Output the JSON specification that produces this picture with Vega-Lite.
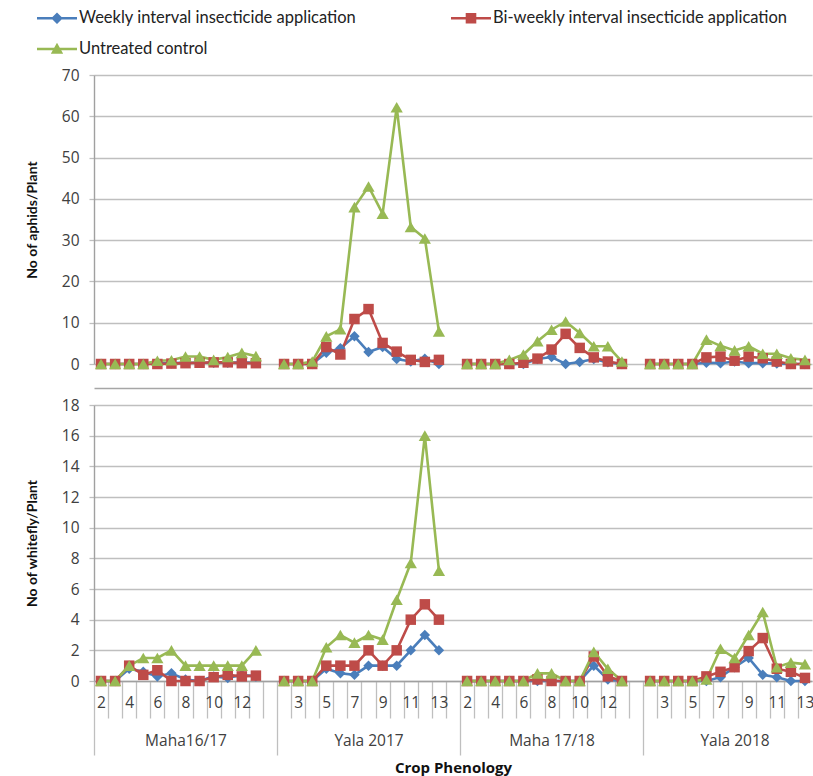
{
  "$schema": "https://vega.github.io/schema/vega-lite/v6.json",
  "background": "white",
  "padding": {"left": 25, "top": 8, "right": 0, "bottom": 0},
  "config": {
    "font": "Lato",
    "view": {"stroke": null},
    "concat": {"spacing": 10},
    "axis": {
      "labelFont": "Open Sans", "labelFontSize": 15.5, "labelColor": "#404040",
      "titleFont": "Lato", "titleFontSize": 14, "titleFontWeight": "bold", "titleColor": "#111111",
      "gridColor": "#BFBFBF", "gridWidth": 1.4,
      "domainColor": "#A0A0A0", "domainWidth": 1.4,
      "tickColor": "#BFBFBF", "tickWidth": 1.3
    },
    "legend": {"labelFont": "Lato", "labelFontSize": 16.5, "labelColor": "#222222", "labelLimit": 500}
  },
  "datasets": {
    "pests": [
      {"pest":"aphids","season":"Maha16/17","cat":"Maha16/17|2","W":0,"B":0,"U":0},
      {"pest":"aphids","season":"Maha16/17","cat":"Maha16/17|3","W":0,"B":0,"U":0},
      {"pest":"aphids","season":"Maha16/17","cat":"Maha16/17|4","W":0,"B":0,"U":0},
      {"pest":"aphids","season":"Maha16/17","cat":"Maha16/17|5","W":0,"B":0,"U":0},
      {"pest":"aphids","season":"Maha16/17","cat":"Maha16/17|6","W":0.2,"B":0,"U":0.8},
      {"pest":"aphids","season":"Maha16/17","cat":"Maha16/17|7","W":0.2,"B":0.1,"U":0.9},
      {"pest":"aphids","season":"Maha16/17","cat":"Maha16/17|8","W":0.3,"B":0.2,"U":1.8},
      {"pest":"aphids","season":"Maha16/17","cat":"Maha16/17|9","W":0.3,"B":0.3,"U":1.8},
      {"pest":"aphids","season":"Maha16/17","cat":"Maha16/17|10","W":0.3,"B":0.4,"U":1.0},
      {"pest":"aphids","season":"Maha16/17","cat":"Maha16/17|11","W":0.3,"B":0.4,"U":1.7},
      {"pest":"aphids","season":"Maha16/17","cat":"Maha16/17|12","W":0.4,"B":0.2,"U":2.7},
      {"pest":"aphids","season":"Maha16/17","cat":"Maha16/17|13","W":0.3,"B":0.2,"U":1.9},
      {"pest":"aphids","season":"Yala 2017","cat":"Yala 2017|2","W":0,"B":0,"U":0},
      {"pest":"aphids","season":"Yala 2017","cat":"Yala 2017|3","W":0,"B":0,"U":0},
      {"pest":"aphids","season":"Yala 2017","cat":"Yala 2017|4","W":0,"B":0,"U":0.6},
      {"pest":"aphids","season":"Yala 2017","cat":"Yala 2017|5","W":2.7,"B":4.1,"U":6.7},
      {"pest":"aphids","season":"Yala 2017","cat":"Yala 2017|6","W":3.8,"B":2.3,"U":8.4},
      {"pest":"aphids","season":"Yala 2017","cat":"Yala 2017|7","W":6.7,"B":10.9,"U":38},
      {"pest":"aphids","season":"Yala 2017","cat":"Yala 2017|8","W":2.9,"B":13.3,"U":43},
      {"pest":"aphids","season":"Yala 2017","cat":"Yala 2017|9","W":4.1,"B":5.1,"U":36.4},
      {"pest":"aphids","season":"Yala 2017","cat":"Yala 2017|10","W":1.2,"B":3.0,"U":62.2},
      {"pest":"aphids","season":"Yala 2017","cat":"Yala 2017|11","W":0.6,"B":1.0,"U":33.2},
      {"pest":"aphids","season":"Yala 2017","cat":"Yala 2017|12","W":1.3,"B":0.5,"U":30.4},
      {"pest":"aphids","season":"Yala 2017","cat":"Yala 2017|13","W":0,"B":1.0,"U":7.9},
      {"pest":"aphids","season":"Maha 17/18","cat":"Maha 17/18|2","W":0,"B":0,"U":0},
      {"pest":"aphids","season":"Maha 17/18","cat":"Maha 17/18|3","W":0,"B":0,"U":0},
      {"pest":"aphids","season":"Maha 17/18","cat":"Maha 17/18|4","W":0,"B":0,"U":0},
      {"pest":"aphids","season":"Maha 17/18","cat":"Maha 17/18|5","W":0,"B":0,"U":1.0},
      {"pest":"aphids","season":"Maha 17/18","cat":"Maha 17/18|6","W":0,"B":0.3,"U":2.3},
      {"pest":"aphids","season":"Maha 17/18","cat":"Maha 17/18|7","W":1.2,"B":1.3,"U":5.5},
      {"pest":"aphids","season":"Maha 17/18","cat":"Maha 17/18|8","W":1.7,"B":3.5,"U":8.3},
      {"pest":"aphids","season":"Maha 17/18","cat":"Maha 17/18|9","W":0,"B":7.3,"U":10.3},
      {"pest":"aphids","season":"Maha 17/18","cat":"Maha 17/18|10","W":0.5,"B":3.9,"U":7.5},
      {"pest":"aphids","season":"Maha 17/18","cat":"Maha 17/18|11","W":1.2,"B":1.6,"U":4.3},
      {"pest":"aphids","season":"Maha 17/18","cat":"Maha 17/18|12","W":0.4,"B":0.6,"U":4.3},
      {"pest":"aphids","season":"Maha 17/18","cat":"Maha 17/18|13","W":0,"B":0,"U":0.6},
      {"pest":"aphids","season":"Yala 2018","cat":"Yala 2018|2","W":0,"B":0,"U":0},
      {"pest":"aphids","season":"Yala 2018","cat":"Yala 2018|3","W":0,"B":0,"U":0},
      {"pest":"aphids","season":"Yala 2018","cat":"Yala 2018|4","W":0,"B":0,"U":0},
      {"pest":"aphids","season":"Yala 2018","cat":"Yala 2018|5","W":0,"B":0,"U":0},
      {"pest":"aphids","season":"Yala 2018","cat":"Yala 2018|6","W":0.3,"B":1.6,"U":5.9},
      {"pest":"aphids","season":"Yala 2018","cat":"Yala 2018|7","W":0.2,"B":1.8,"U":4.4},
      {"pest":"aphids","season":"Yala 2018","cat":"Yala 2018|8","W":0.6,"B":0.8,"U":3.3},
      {"pest":"aphids","season":"Yala 2018","cat":"Yala 2018|9","W":0.2,"B":1.8,"U":4.3},
      {"pest":"aphids","season":"Yala 2018","cat":"Yala 2018|10","W":0.2,"B":1.4,"U":2.5},
      {"pest":"aphids","season":"Yala 2018","cat":"Yala 2018|11","W":0.1,"B":0.6,"U":2.5},
      {"pest":"aphids","season":"Yala 2018","cat":"Yala 2018|12","W":0,"B":0,"U":1.4},
      {"pest":"aphids","season":"Yala 2018","cat":"Yala 2018|13","W":0,"B":0,"U":1.0},
      {"pest":"whitefly","season":"Maha16/17","cat":"Maha16/17|2","W":0,"B":0,"U":0},
      {"pest":"whitefly","season":"Maha16/17","cat":"Maha16/17|3","W":0,"B":0,"U":0},
      {"pest":"whitefly","season":"Maha16/17","cat":"Maha16/17|4","W":0.8,"B":1.0,"U":1.0},
      {"pest":"whitefly","season":"Maha16/17","cat":"Maha16/17|5","W":0.6,"B":0.4,"U":1.5},
      {"pest":"whitefly","season":"Maha16/17","cat":"Maha16/17|6","W":0.3,"B":0.7,"U":1.5},
      {"pest":"whitefly","season":"Maha16/17","cat":"Maha16/17|7","W":0.5,"B":0,"U":2.0},
      {"pest":"whitefly","season":"Maha16/17","cat":"Maha16/17|8","W":0.1,"B":0,"U":1.0},
      {"pest":"whitefly","season":"Maha16/17","cat":"Maha16/17|9","W":0,"B":0,"U":1.0},
      {"pest":"whitefly","season":"Maha16/17","cat":"Maha16/17|10","W":0.3,"B":0.25,"U":1.0},
      {"pest":"whitefly","season":"Maha16/17","cat":"Maha16/17|11","W":0.2,"B":0.4,"U":1.0},
      {"pest":"whitefly","season":"Maha16/17","cat":"Maha16/17|12","W":0.4,"B":0.3,"U":1.0},
      {"pest":"whitefly","season":"Maha16/17","cat":"Maha16/17|13","W":0.3,"B":0.35,"U":2.0},
      {"pest":"whitefly","season":"Yala 2017","cat":"Yala 2017|2","W":0,"B":0,"U":0},
      {"pest":"whitefly","season":"Yala 2017","cat":"Yala 2017|3","W":0,"B":0,"U":0},
      {"pest":"whitefly","season":"Yala 2017","cat":"Yala 2017|4","W":0,"B":0,"U":0},
      {"pest":"whitefly","season":"Yala 2017","cat":"Yala 2017|5","W":0.8,"B":1.0,"U":2.2},
      {"pest":"whitefly","season":"Yala 2017","cat":"Yala 2017|6","W":0.5,"B":1.0,"U":3.0},
      {"pest":"whitefly","season":"Yala 2017","cat":"Yala 2017|7","W":0.4,"B":1.0,"U":2.5},
      {"pest":"whitefly","season":"Yala 2017","cat":"Yala 2017|8","W":1.0,"B":2.0,"U":3.0},
      {"pest":"whitefly","season":"Yala 2017","cat":"Yala 2017|9","W":1.0,"B":1.0,"U":2.7},
      {"pest":"whitefly","season":"Yala 2017","cat":"Yala 2017|10","W":1.0,"B":2.0,"U":5.3},
      {"pest":"whitefly","season":"Yala 2017","cat":"Yala 2017|11","W":2.0,"B":4.0,"U":7.7},
      {"pest":"whitefly","season":"Yala 2017","cat":"Yala 2017|12","W":3.0,"B":5.0,"U":16.0},
      {"pest":"whitefly","season":"Yala 2017","cat":"Yala 2017|13","W":2.0,"B":4.0,"U":7.2},
      {"pest":"whitefly","season":"Maha 17/18","cat":"Maha 17/18|2","W":0,"B":0,"U":0},
      {"pest":"whitefly","season":"Maha 17/18","cat":"Maha 17/18|3","W":0,"B":0,"U":0},
      {"pest":"whitefly","season":"Maha 17/18","cat":"Maha 17/18|4","W":0,"B":0,"U":0},
      {"pest":"whitefly","season":"Maha 17/18","cat":"Maha 17/18|5","W":0,"B":0,"U":0},
      {"pest":"whitefly","season":"Maha 17/18","cat":"Maha 17/18|6","W":0,"B":0,"U":0},
      {"pest":"whitefly","season":"Maha 17/18","cat":"Maha 17/18|7","W":0,"B":0.1,"U":0.5},
      {"pest":"whitefly","season":"Maha 17/18","cat":"Maha 17/18|8","W":0,"B":0,"U":0.5},
      {"pest":"whitefly","season":"Maha 17/18","cat":"Maha 17/18|9","W":0,"B":0,"U":0},
      {"pest":"whitefly","season":"Maha 17/18","cat":"Maha 17/18|10","W":0,"B":0,"U":0},
      {"pest":"whitefly","season":"Maha 17/18","cat":"Maha 17/18|11","W":1.0,"B":1.6,"U":1.9},
      {"pest":"whitefly","season":"Maha 17/18","cat":"Maha 17/18|12","W":0.1,"B":0.3,"U":0.8},
      {"pest":"whitefly","season":"Maha 17/18","cat":"Maha 17/18|13","W":0,"B":0,"U":0},
      {"pest":"whitefly","season":"Yala 2018","cat":"Yala 2018|2","W":0,"B":0,"U":0},
      {"pest":"whitefly","season":"Yala 2018","cat":"Yala 2018|3","W":0,"B":0,"U":0},
      {"pest":"whitefly","season":"Yala 2018","cat":"Yala 2018|4","W":0,"B":0,"U":0},
      {"pest":"whitefly","season":"Yala 2018","cat":"Yala 2018|5","W":0,"B":0,"U":0},
      {"pest":"whitefly","season":"Yala 2018","cat":"Yala 2018|6","W":0,"B":0.3,"U":0.1},
      {"pest":"whitefly","season":"Yala 2018","cat":"Yala 2018|7","W":0.25,"B":0.6,"U":2.1},
      {"pest":"whitefly","season":"Yala 2018","cat":"Yala 2018|8","W":0.9,"B":0.9,"U":1.5},
      {"pest":"whitefly","season":"Yala 2018","cat":"Yala 2018|9","W":1.5,"B":1.95,"U":3.0},
      {"pest":"whitefly","season":"Yala 2018","cat":"Yala 2018|10","W":0.4,"B":2.8,"U":4.5},
      {"pest":"whitefly","season":"Yala 2018","cat":"Yala 2018|11","W":0.25,"B":0.8,"U":0.9},
      {"pest":"whitefly","season":"Yala 2018","cat":"Yala 2018|12","W":0,"B":0.6,"U":1.2},
      {"pest":"whitefly","season":"Yala 2018","cat":"Yala 2018|13","W":0,"B":0.2,"U":1.1}
    ]
  },
  "vconcat": [
    {
      "width": 718,
      "height": 289,
      "data": {"name": "pests"},
      "transform": [
        {"filter": "datum.pest == 'aphids'"},
        {"fold": ["W", "B", "U"], "as": ["series", "value"]}
      ],
      "encoding": {
        "x": {
          "field": "cat", "type": "ordinal",
          "scale": {"type": "point", "padding": 0.5, "domain": ["Maha16/17|2","Maha16/17|3","Maha16/17|4","Maha16/17|5","Maha16/17|6","Maha16/17|7","Maha16/17|8","Maha16/17|9","Maha16/17|10","Maha16/17|11","Maha16/17|12","Maha16/17|13","Maha16/17|14","Yala 2017|2","Yala 2017|3","Yala 2017|4","Yala 2017|5","Yala 2017|6","Yala 2017|7","Yala 2017|8","Yala 2017|9","Yala 2017|10","Yala 2017|11","Yala 2017|12","Yala 2017|13","Yala 2017|14","Maha 17/18|2","Maha 17/18|3","Maha 17/18|4","Maha 17/18|5","Maha 17/18|6","Maha 17/18|7","Maha 17/18|8","Maha 17/18|9","Maha 17/18|10","Maha 17/18|11","Maha 17/18|12","Maha 17/18|13","Maha 17/18|14","Yala 2018|2","Yala 2018|3","Yala 2018|4","Yala 2018|5","Yala 2018|6","Yala 2018|7","Yala 2018|8","Yala 2018|9","Yala 2018|10","Yala 2018|11","Yala 2018|12","Yala 2018|13"]},
          "axis": {"title": null, "labels": false, "ticks": false, "grid": false, "domain": true, "offset": 24, "domainColor": "#A6A6A6", "domainWidth": 1.6}
        },
        "y": {
          "field": "value", "type": "quantitative",
          "scale": {"domain": [0, 70], "nice": false},
          "axis": {"title": "No of aphids/Plant", "values": [0,10,20,30,40,50,60,70], "grid": true, "domain": true, "tickSize": 5, "labelPadding": 10, "titlePadding": 22}
        },
        "color": {
          "field": "series", "type": "nominal",
          "scale": {"domain": ["W", "B", "U"], "range": ["#4A7EBB", "#BE4B48", "#98B954"]},
          "legend": {
            "orient": "none", "legendX": -57, "legendY": -67,
            "direction": "horizontal",
            "title": null, "columns": 2, "columnPadding": 94, "rowPadding": 12,
            "symbolSize": 400, "labelOffset": 22,
            "labelExpr": "datum.value == 'W' ? 'Weekly interval insecticide application' : datum.value == 'B' ? 'Bi-weekly interval insecticide application' : 'Untreated control'",
            "encode": {
              "symbols": {
                "update": {
                  "shape": {"signal": "datum.value == 'W' ? 'M-1,-0.13H3V0.13H-1Z M1,-0.58L1.58,0L1,0.58L0.42,0Z' : datum.value == 'B' ? 'M-1,-0.13H3V0.13H-1Z M0.47,-0.53H1.53V0.53H0.47Z' : 'M-1,-0.13H3V0.13H-1Z M1,-0.62L1.62,0.48L0.38,0.48Z'"},
                  "fill": {"scale": "color", "field": "value"},
                  "stroke": {"value": "transparent"},
                  "strokeWidth": {"value": 0},
                  "opacity": {"value": 1},
                  "fillOpacity": {"value": 1}
                }
              }
            }
          }
        }
      },
      "layer": [
        {"mark": {"type": "line", "strokeWidth": 2.6}, "encoding": {"detail": {"field": "season"}}},
        {"transform": [{"filter": "datum.series == 'W'"}], "mark": {"type": "point", "shape": "diamond", "filled": true, "opacity": 1, "size": 110}},
        {"transform": [{"filter": "datum.series == 'B'"}], "mark": {"type": "point", "shape": "square", "filled": true, "opacity": 1, "size": 110}},
        {"transform": [{"filter": "datum.series == 'U'"}], "mark": {"type": "point", "shape": "triangle-up", "filled": true, "opacity": 1, "size": 150}}
      ]
    },
    {
      "width": 718,
      "height": 276,
      "data": {"name": "pests"},
      "transform": [
        {"filter": "datum.pest == 'whitefly'"},
        {"fold": ["W", "B", "U"], "as": ["series", "value"]}
      ],
      "encoding": {
        "x": {
          "field": "cat", "type": "ordinal",
          "scale": {"type": "point", "padding": 0.5, "domain": ["Maha16/17|2","Maha16/17|3","Maha16/17|4","Maha16/17|5","Maha16/17|6","Maha16/17|7","Maha16/17|8","Maha16/17|9","Maha16/17|10","Maha16/17|11","Maha16/17|12","Maha16/17|13","Maha16/17|14","Yala 2017|2","Yala 2017|3","Yala 2017|4","Yala 2017|5","Yala 2017|6","Yala 2017|7","Yala 2017|8","Yala 2017|9","Yala 2017|10","Yala 2017|11","Yala 2017|12","Yala 2017|13","Yala 2017|14","Maha 17/18|2","Maha 17/18|3","Maha 17/18|4","Maha 17/18|5","Maha 17/18|6","Maha 17/18|7","Maha 17/18|8","Maha 17/18|9","Maha 17/18|10","Maha 17/18|11","Maha 17/18|12","Maha 17/18|13","Maha 17/18|14","Yala 2018|2","Yala 2018|3","Yala 2018|4","Yala 2018|5","Yala 2018|6","Yala 2018|7","Yala 2018|8","Yala 2018|9","Yala 2018|10","Yala 2018|11","Yala 2018|12","Yala 2018|13"]},
          "axis": {
            "title": "Crop Phenology", "titleFont": "Open Sans", "titleFontSize": 15, "titleFontWeight": "bold", "titlePadding": 5,
            "grid": false, "domain": true,
            "labelOverlap": false, "labelBound": false, "labelFlush": false, "labelAngle": 0,
            "labelFontSize": 15.5, "labelLineHeight": 38, "labelBaseline": "top",
            "tickOffset": -7.04, "labelOffset": 7.04,
            "tickSize": {"condition": {"test": "split(datum.value, '|')[1] == '2'", "value": 74}, "value": 37},
            "labelPadding": {"condition": {"test": "split(datum.value, '|')[1] == '2'", "value": -60}, "value": -23},
            "labelExpr": "[((indexof(datum.value, 'Maha') == 0) ? (toNumber(split(datum.value, '|')[1]) % 2 == 0 && toNumber(split(datum.value, '|')[1]) < 14) : (toNumber(split(datum.value, '|')[1]) % 2 == 1)) ? split(datum.value, '|')[1] : ' ', split(datum.value, '|')[1] == '8' ? split(datum.value, '|')[0] : ' ']"
          }
        },
        "y": {
          "field": "value", "type": "quantitative",
          "scale": {"domain": [0, 18], "nice": false},
          "axis": {"title": "No of whitefly/Plant", "values": [0,2,4,6,8,10,12,14,16,18], "grid": true, "domain": true, "tickSize": 5, "labelPadding": 10, "titlePadding": 22}
        },
        "color": {"field": "series", "type": "nominal", "scale": {"domain": ["W", "B", "U"], "range": ["#4A7EBB", "#BE4B48", "#98B954"]}}
      },
      "layer": [
        {"mark": {"type": "line", "strokeWidth": 2.6}, "encoding": {"detail": {"field": "season"}}},
        {"transform": [{"filter": "datum.series == 'W'"}], "mark": {"type": "point", "shape": "diamond", "filled": true, "opacity": 1, "size": 110}},
        {"transform": [{"filter": "datum.series == 'B'"}], "mark": {"type": "point", "shape": "square", "filled": true, "opacity": 1, "size": 110}},
        {"transform": [{"filter": "datum.series == 'U'"}], "mark": {"type": "point", "shape": "triangle-up", "filled": true, "opacity": 1, "size": 150}}
      ]
    }
  ]
}
